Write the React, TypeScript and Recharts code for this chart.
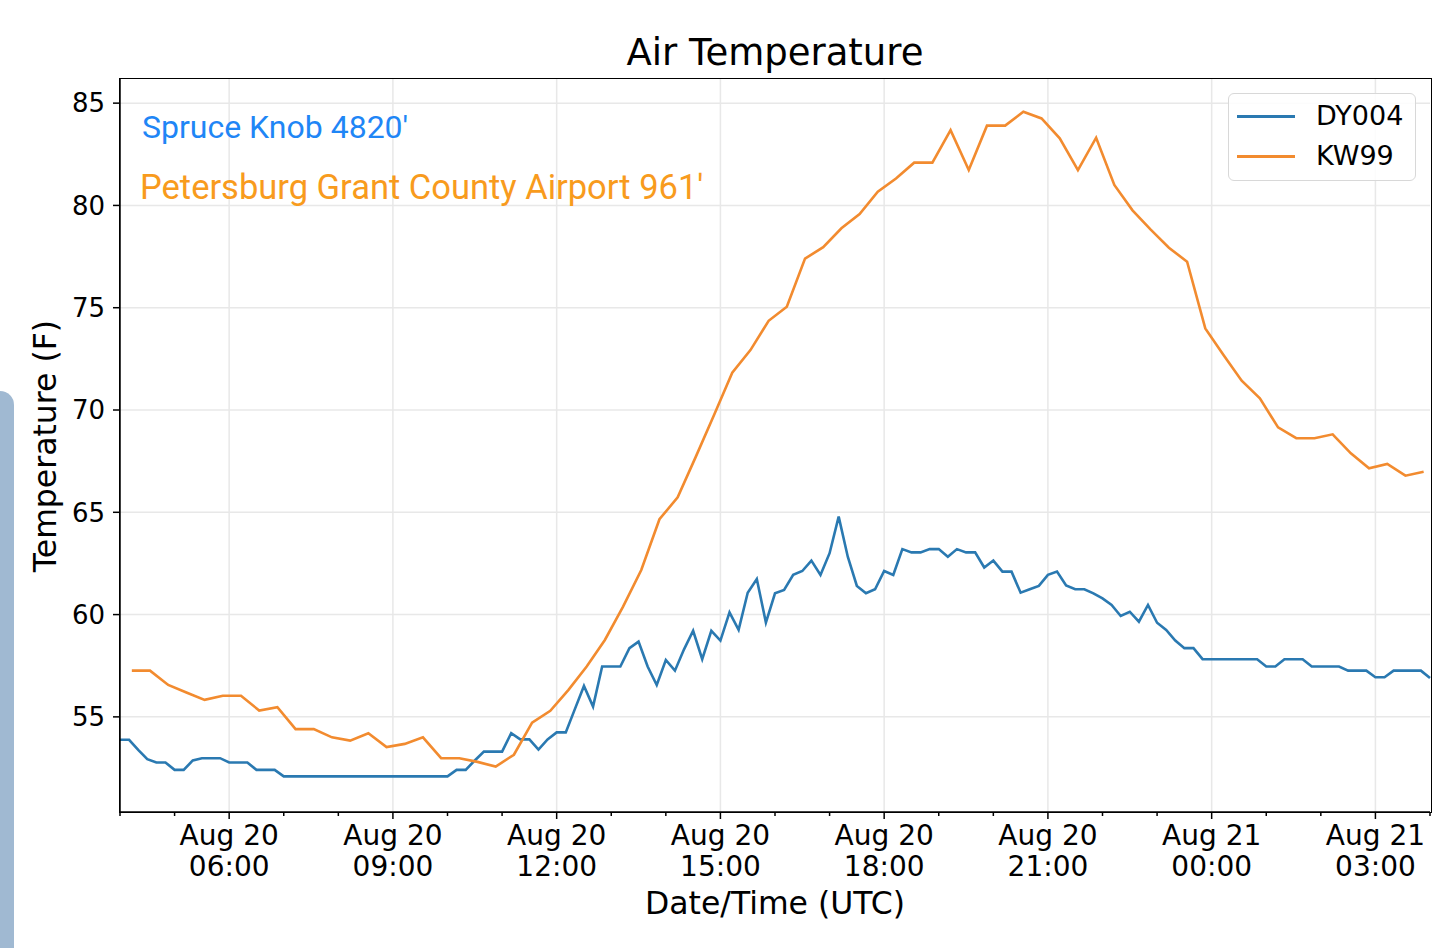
import React from "react";
import { LineChart, Line, XAxis, YAxis, CartesianGrid, Legend } from "recharts";

// DY004 (Spruce Knob) - 10 minute obs, first one Aug 20 04:00 UTC
const dy004Temps = [
  53.88, 53.88, 53.39, 52.93, 52.77, 52.77, 52.41, 52.41, 52.87, 52.98,
  52.98, 52.98, 52.77, 52.77, 52.77, 52.41, 52.41, 52.41, 52.09, 52.09,
  52.09, 52.09, 52.09, 52.09, 52.09, 52.09, 52.09, 52.09, 52.09, 52.09,
  52.09, 52.09, 52.09, 52.09, 52.09, 52.09, 52.09, 52.41, 52.41, 52.87,
  53.3, 53.3, 53.3, 54.2, 53.9, 53.9, 53.4, 53.9, 54.24, 54.24,
  55.38, 56.51, 55.5, 57.46, 57.46, 57.46, 58.36, 58.68, 57.46, 56.56,
  57.78, 57.26, 58.3, 59.21, 57.82, 59.21, 58.73, 60.11, 59.25, 61.07,
  61.74, 59.61, 61.04, 61.2, 61.94, 62.13, 62.64, 61.94, 63.0, 64.79,
  62.83, 61.4, 61.04, 61.24, 62.13, 61.94, 63.2, 63.04, 63.04, 63.2,
  63.2, 62.83, 63.2, 63.04, 63.04, 62.3, 62.64, 62.1, 62.1, 61.07,
  61.24, 61.4, 61.94, 62.1, 61.42, 61.24, 61.24, 61.04, 60.79, 60.47,
  59.93, 60.14, 59.65, 60.47, 59.6, 59.25, 58.73, 58.36, 58.36, 57.82,
  57.82, 57.82, 57.82, 57.82, 57.82, 57.82, 57.46, 57.46, 57.82, 57.82,
  57.82, 57.46, 57.46, 57.46, 57.46, 57.26, 57.26, 57.26, 56.94, 56.94,
  57.26, 57.26, 57.26, 57.26, 56.9,
];

// KW99 (Petersburg) - 20 minute obs, first one Aug 20 04:13 UTC
const kw99Temps = [
  57.26, 57.26, 56.56, 56.19, 55.83, 56.03, 56.03, 55.31, 55.47, 54.4,
  54.4, 54.0, 53.84, 54.2, 53.52, 53.68, 54.0, 52.98, 52.98, 52.8,
  52.57, 53.15, 54.72, 55.3, 56.32, 57.46, 58.76, 60.39, 62.18, 64.66,
  65.73, 67.72, 69.76, 71.82, 72.93, 74.36, 75.05, 77.4, 77.96, 78.88,
  79.58, 80.67, 81.32, 82.09, 82.09, 83.68, 81.73, 83.9, 83.9, 84.58,
  84.25, 83.28, 81.73, 83.31, 81.0, 79.76, 78.82, 77.93, 77.25, 73.99,
  72.69, 71.43, 70.57, 69.15, 68.62, 68.62, 68.81, 67.88, 67.15, 67.36,
  66.79, 66.98,
];

// hours after Aug 20 04:00 UTC
const DY004_STEP = 1 / 6;
const KW99_START = 13 / 60;
const KW99_STEP = 1 / 3;

const hourTicks = [0, 1, 2, 3, 4, 5, 6, 7, 8, 9, 10, 11, 12, 13, 14, 15, 16, 17, 18, 19, 20, 21, 22, 23, 24];
const majorHours = [2, 5, 8, 11, 14, 17, 20, 23];
const majorDates = ["Aug 20", "Aug 20", "Aug 20", "Aug 20", "Aug 20", "Aug 20", "Aug 21", "Aug 21"];
const majorTimes = ["06:00", "09:00", "12:00", "15:00", "18:00", "21:00", "00:00", "03:00"];
const tempTicks = [55, 60, 65, 70, 75, 80, 85];

const BLUE = "#2a79b1";
const ORANGE = "#f28b2f";
const FONT = "'DejaVu Sans', sans-serif";

const dy004Data = dy004Temps.map((v, i) => ({ t: i * DY004_STEP, temp: v }));
const kw99Data = kw99Temps.map((v, i) => ({ t: KW99_START + i * KW99_STEP, temp: v }));

function HourTick(props: any) {
  const { x, y, payload } = props;
  const idx = majorHours.indexOf(payload.value);
  const major = idx >= 0;
  return (
    <g>
      <line x1={x} x2={x} y1={y} y2={y + (major ? 7 : 4)} stroke="#000" strokeWidth={1.5} />
      {major && (
        <text textAnchor="middle" fontFamily={FONT} fontSize={28} fill="#000">
          <tspan x={x} y={y + 33}>{majorDates[idx]}</tspan>
          <tspan x={x} y={y + 64}>{majorTimes[idx]}</tspan>
        </text>
      )}
    </g>
  );
}

function LegendBox({ payload }: any) {
  return (
    <div
      style={{
        width: 188,
        height: 88,
        boxSizing: "border-box",
        border: "1.5px solid #d8d8d8",
        borderRadius: 6,
        background: "rgba(255,255,255,0.85)",
        paddingTop: 2,
        fontFamily: FONT,
        fontSize: 27,
        color: "#000",
      }}
    >
      {(payload || []).map((p: any) => (
        <div key={p.value} style={{ display: "flex", alignItems: "center", height: 40 }}>
          <span style={{ display: "inline-block", width: 58, height: 3, background: p.color, marginLeft: 8 }} />
          <span style={{ marginLeft: 21, lineHeight: "40px" }}>{p.value}</span>
        </div>
      ))}
    </div>
  );
}

export default function App() {
  return (
    <div style={{ position: "absolute", left: 0, top: 0, width: 1440, height: 948, background: "#fff", overflow: "hidden" }}>
      <LineChart width={1440} height={948} margin={{ top: 79, right: 10, bottom: 26, left: 0 }}>
        <CartesianGrid stroke="#e8e8e8" strokeWidth={1.5} verticalValues={majorHours} horizontalValues={tempTicks} />
        <XAxis
          type="number"
          dataKey="t"
          domain={[0, 24]}
          ticks={hourTicks}
          interval={0}
          height={110}
          tickLine={false}
          tickSize={0}
          tickMargin={0}
          axisLine={{ stroke: "#000", strokeWidth: 1.5 }}
          tick={(p: any) => <HourTick {...p} />}
        />
        <YAxis
          type="number"
          domain={[50.35, 86.18]}
          ticks={tempTicks}
          interval={0}
          width={120}
          tickSize={7}
          tickMargin={8}
          tickLine={{ stroke: "#000", strokeWidth: 1.5 }}
          axisLine={{ stroke: "#000", strokeWidth: 1.5 }}
          tick={{ fontSize: 26, fill: "#000", fontFamily: FONT }}
        />
        <Line data={dy004Data} dataKey="temp" name="DY004" type="linear" stroke={BLUE} strokeWidth={2.6} dot={false} activeDot={false} isAnimationActive={false} />
        <Line data={kw99Data} dataKey="temp" name="KW99" type="linear" stroke={ORANGE} strokeWidth={2.6} dot={false} activeDot={false} isAnimationActive={false} />
        <Legend
          layout="vertical"
          align="center"
          verticalAlign="middle"
          wrapperStyle={{ left: 1228, top: 93, width: 188, height: 88 }}
          content={(p: any) => <LegendBox {...p} />}
        />
      </LineChart>

      {/* top and right spines of the axes frame */}
      <div
        style={{
          position: "absolute",
          left: 119.25,
          top: 78.25,
          width: 1312.5,
          height: 734.5,
          boxSizing: "border-box",
          border: "1.5px solid #000",
          pointerEvents: "none",
        }}
      />

      <div style={{ position: "absolute", left: 120, width: 1310, top: 31, lineHeight: "44px", textAlign: "center", fontFamily: FONT, fontSize: 37, color: "#000" }}>
        Air Temperature
      </div>
      <div style={{ position: "absolute", left: 142, top: 107, lineHeight: "40px", fontFamily: "Roboto, sans-serif", fontSize: 32, color: "#1f86f6", whiteSpace: "nowrap" }}>
        Spruce Knob 4820'
      </div>
      <div style={{ position: "absolute", left: 140, top: 166, lineHeight: "42px", fontFamily: "Roboto, sans-serif", fontSize: 34.5, color: "#f89b1d", whiteSpace: "nowrap" }}>
        Petersburg Grant County Airport 961'
      </div>
      <div style={{ position: "absolute", left: 120, width: 1310, top: 882, lineHeight: "42px", textAlign: "center", fontFamily: FONT, fontSize: 31.5, color: "#000" }}>
        Date/Time (UTC)
      </div>
      <div
        style={{
          position: "absolute",
          left: 45,
          top: 446,
          transform: "translate(-50%, -50%) rotate(-90deg)",
          lineHeight: "42px",
          fontFamily: FONT,
          fontSize: 31.5,
          color: "#000",
          whiteSpace: "nowrap",
        }}
      >
        Temperature (F)
      </div>
      <div style={{ position: "absolute", left: 0, top: 391, width: 14, height: 557, background: "#a0b9d2", borderTopRightRadius: 14 }} />
    </div>
  );
}
